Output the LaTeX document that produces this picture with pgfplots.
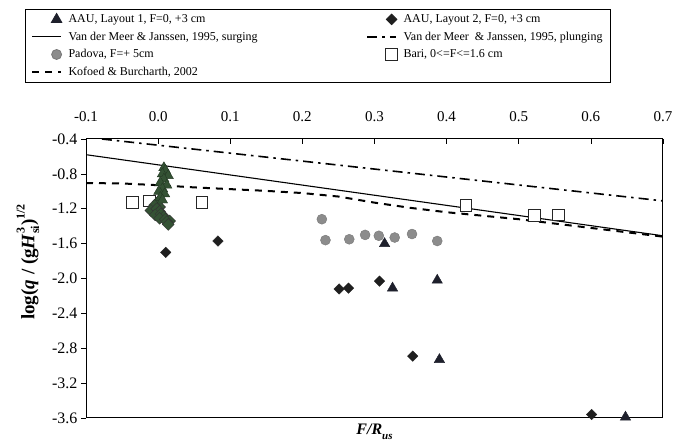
\documentclass[border=0pt]{standalone}
\usepackage{fontspec}
\setmainfont{Liberation Serif}
\usepackage{pgfplots}
\pgfplotsset{compat=1.18}
\definecolor{clgreen}{RGB}{52,82,52}
\definecolor{mkdark}{RGB}{30,32,44}
\definecolor{padgray}{RGB}{140,140,140}
\pgfplotsset{
  legmark/.style={legend image code/.code={\path[draw=none,fill=none] (0cm,0cm) (1.2cm,0cm); \draw plot coordinates {(0.85cm,0cm)};}},
}
\begin{document}
\begin{tikzpicture}
\useasboundingbox (0,0) rectangle (674pt,441pt);
\begin{axis}[
  at={(86pt,23pt)}, anchor=south west,
  scale only axis, width=577pt, height=279pt,
  xmin=-0.1, xmax=0.7, ymin=-3.6, ymax=-0.4,
  xtick={-0.1,0,0.1,0.2,0.3,0.4,0.5,0.6,0.7},
  ytick={-3.6,-3.2,-2.8,-2.4,-2.0,-1.6,-1.2,-0.8,-0.4},
  xtick pos=right, xticklabel pos=right,
  ytick pos=left,
  xtick align=inside, ytick align=outside,
  major tick length=5pt,
  tick style={black, line width=0.6pt},
  axis line style={line width=1pt},
  /pgf/number format/assume math mode=true,
  xticklabel style={font=\fontsize{15}{15}\selectfont, yshift=14pt,
    /pgf/number format/.cd, fixed, fixed zerofill, precision=1},
  yticklabel style={font=\fontsize{16}{16}\selectfont,
    /pgf/number format/.cd, fixed, fixed zerofill, precision=1},
  xlabel={\textbf{\textit{F/R}\raisebox{-0.6ex}{\fontsize{11}{11}\selectfont\textit{us}}}},
  xlabel style={font=\fontsize{16}{16}\selectfont, at={(axis description cs:0.5,-0.05)}, anchor=center},
  ylabel={\textbf{log(\textit{q} / (g\textit{H}\makebox[0pt][l]{\raisebox{1.1ex}{\fontsize{12}{12}\selectfont 3}}\raisebox{-0.55ex}{\fontsize{12}{12}\selectfont si})\raisebox{1.1ex}{\fontsize{12}{12}\selectfont 1/2}}},
  ylabel style={font=\fontsize{19}{19}\selectfont, at={(axis description cs:-0.1005,0.559)}, anchor=center},
  legend columns=2,
  legend cell align=left,
  legend image code/.code={\draw[mark repeat=2,mark phase=2] plot coordinates {(0cm,0cm) (0.85cm,0cm) (1cm,0cm)};},
  legend style={at={(axis description cs:-0.1057,1.465)}, anchor=north west,
    draw=black, line width=0.8pt, font=\fontsize{12}{14}\selectfont,
    inner xsep=6pt, inner ysep=3pt,
    /tikz/every even column/.append style={column sep=107pt},
    row sep=3.8pt},
]
% AAU Layout 1 (triangles)
\addplot[legmark, only marks, mark=triangle*, mark size=6pt, mark options={fill=mkdark, draw=mkdark}]
  coordinates {(0.314,-1.60) (0.325,-2.11) (0.387,-2.02) (0.390,-2.93) (0.648,-3.59)};
\addlegendentry{AAU, Layout 1, F=0, +3 cm}
% AAU Layout 2 (diamonds)
\addplot[legmark, only marks, mark=square*, mark size=3.7pt, mark options={rotate=45, fill=black!88, draw=black!88}]
  coordinates {(0.0105,-1.70) (0.083,-1.57) (0.251,-2.12) (0.264,-2.11) (0.307,-2.03) (0.353,-2.89) (0.601,-3.56)};
\addlegendentry{AAU, Layout 2, F=0, +3 cm}
% Van der Meer & Janssen surging
\addplot[black, line width=1.1pt] coordinates {(-0.1,-0.58) (0.7,-1.51)};
\addlegendentry{Van der Meer \& Janssen, 1995, surging}
% Van der Meer & Janssen plunging
\addplot[black, line width=1.6pt, dash pattern=on 10pt off 5pt on 2.5pt off 5pt] coordinates {(-0.078,-0.40) (0.7,-1.11)};
\addlegendentry{Van der Meer \ \& Janssen, 1995, plunging}
% Padova
\addplot[legmark, only marks, mark=*, mark size=5pt, mark options={fill=padgray, draw=padgray!85!black}]
  coordinates {(0.227,-1.32) (0.232,-1.56) (0.265,-1.55) (0.287,-1.50) (0.306,-1.51) (0.328,-1.53) (0.352,-1.49) (0.387,-1.57)};
\addlegendentry{Padova, F=+ 5cm}
% Bari
\addplot[legmark, only marks, mark=square*, mark size=5.8pt, mark options={fill=white, draw=black!85, line width=0.9pt}]
  coordinates {(-0.036,-1.13) (-0.012,-1.11) (0.061,-1.13) (0.427,-1.16) (0.522,-1.28) (0.555,-1.27)};
\addlegendentry{Bari, 0<=F<=1.6 cm}
% Kofoed & Burcharth
\addplot[black, line width=2pt, dash pattern=on 7pt off 6pt]
  coordinates {(-0.1,-0.905) (-0.05,-0.91) (0.0,-0.93) (0.05,-0.955) (0.1,-0.975) (0.15,-0.995) (0.2,-1.02) (0.25,-1.06) (0.3,-1.13) (0.35,-1.19) (0.4,-1.24) (0.45,-1.28) (0.5,-1.32) (0.55,-1.37) (0.6,-1.42) (0.65,-1.47) (0.7,-1.52)};
\addlegendentry{Kofoed \& Burcharth, 2002}
% dense cluster near F/R = 0 (AAU data, drawn darker green in the scan)
\addplot[forget plot, only marks, mark=square*, mark size=4.2pt, mark options={rotate=45, fill=clgreen, draw=black!80}]
  coordinates {(0.000,-1.12) (0.002,-1.18) (-0.005,-1.16) (-0.010,-1.22) (-0.002,-1.20) (0.002,-1.23) (-0.004,-1.27) (0.004,-1.26) (0.008,-1.29) (0.002,-1.31) (0.010,-1.32) (0.016,-1.34) (0.012,-1.35) (0.014,-1.38)};
\addplot[forget plot, only marks, mark=triangle*, mark size=6pt, mark options={fill=clgreen, draw=clgreen!70!black}]
  coordinates {(0.008,-0.73) (0.010,-0.76) (0.006,-0.80) (0.014,-0.82) (0.008,-0.86) (0.003,-0.90) (0.012,-0.93) (0.006,-0.97) (0.001,-1.00) (0.009,-1.03) (0.003,-1.07) (0.006,-1.10)};
\end{axis}
\end{tikzpicture}
\end{document}
